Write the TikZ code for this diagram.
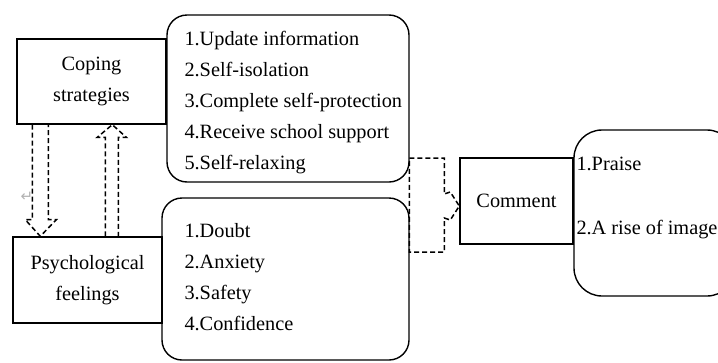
\documentclass[tikz,border=0pt]{standalone}
\usepackage{fontspec}
\setmainfont{Liberation Serif}
\newfontfamily\symfont{DejaVu Sans}
\usetikzlibrary{calc}

\begin{document}
\begin{tikzpicture}[x=1pt,y=-1pt,
  txt/.style={font=\fontsize{20.3}{31}\selectfont},
  sqbox/.style={draw,line width=1.4pt,inner sep=0pt,txt,align=center},
  listbox/.style={draw,line width=1.4pt,rounded corners=20pt,inner sep=0pt},
  blockarrow/.style={line width=1.5pt,dash pattern=on 5pt off 3pt,line join=miter}]
\useasboundingbox (0,0) rectangle (718,362);
\clip (0,0) rectangle (718,362);

\node[sqbox,minimum width=149pt,minimum height=85pt] (cope) at (91.5,81.5) {Coping\\strategies};
\node[sqbox,minimum width=149pt,minimum height=86pt] (psych) at (87.5,280) {Psychological\\feelings};
\node[sqbox,minimum width=113pt,minimum height=86pt] (comment) at (516.5,201) {Comment};

\node[listbox,minimum width=242pt,minimum height=167pt] (strat) at (288,98.5) {};
\node[listbox,minimum width=247pt,minimum height=162pt] (feel) at (285.5,279) {};
\node[listbox,rounded corners=28pt,minimum width=161pt,minimum height=166pt] (result) at (654.5,213) {};

\node[txt,align=left,anchor=west,inner sep=0pt] (strattext) at ($(strat.west)+(18,4)$)
  {1.Update information\\2.Self-isolation\\3.Complete self-protection\\4.Receive school support\\5.Self-relaxing};
\node[txt,align=left,anchor=west,inner sep=0pt] (feeltext) at ($(feel.west)+(23,-2)$)
  {1.Doubt\\2.Anxiety\\3.Safety\\4.Confidence};
\node[txt,align=left,anchor=west,inner sep=0pt] (resulttext) at ($(result.west)+(3,-15)$)
  {1.Praise\\[33pt]2.A rise of image};

\node[text=gray!60,inner sep=0pt,font=\symfont\fontsize{15}{15}\selectfont] (retmark) at (27,197) {↵};

\draw[blockarrow] ($(cope.south west)+(16,0)$) -- ++(0,95) -- ++(-7,0)
  -- ($(psych.north west)+(28,0)$) -- ($(cope.south west)+(40,95)$) -- ++(-8,0)
  -- ($(cope.south west)+(32,0)$);
\draw[blockarrow] ($(psych.north west)+(93,0)$) -- ++(0,-99) -- ++(-8,0)
  -- ($(cope.south west)+(96,0)$) -- ($(psych.north west)+(114,-99)$) -- ++(-8,0)
  -- ($(psych.north west)+(106,0)$);

\coordinate (tip) at ($(comment.west)+(0,5)$);
\draw[blockarrow] ($(tip)+(-50,-48)$) -- ($(tip)+(-15,-48)$) -- ($(tip)+(-15,-12)$)
  -- ($(tip)+(-9,-14)$) -- (tip) -- ($(tip)+(-9,14)$) -- ($(tip)+(-15,12)$)
  -- ($(tip)+(-15,46)$) -- ($(tip)+(-50,46)$) -- cycle;
\end{tikzpicture}
\end{document}
